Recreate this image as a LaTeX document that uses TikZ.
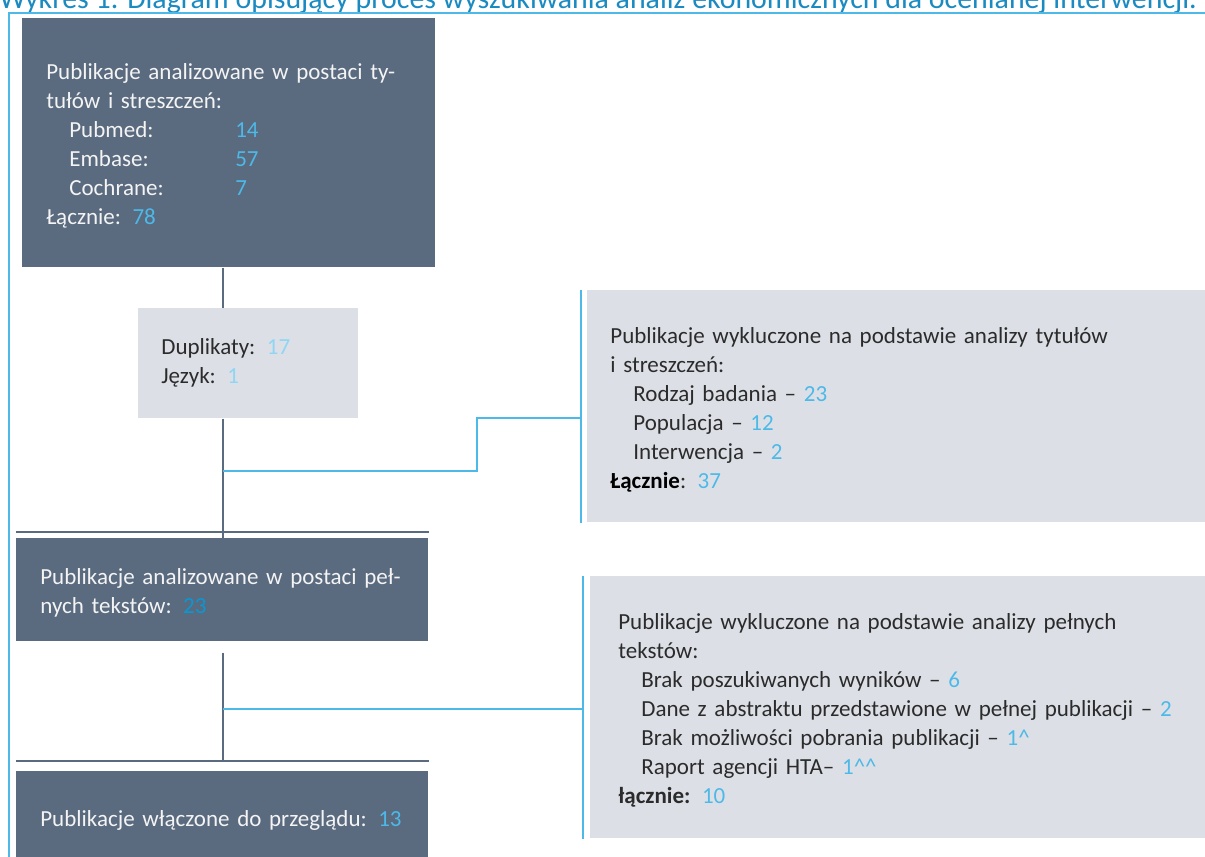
\documentclass[tikz,border=0pt]{standalone}
\usepackage{fontspec}
\setmainfont{Carlito}
\usetikzlibrary{positioning}

\definecolor{slate}{HTML}{5A6A7F}
\definecolor{pale}{HTML}{DCE0E6}
\definecolor{sky}{HTML}{4DB9E8}
\definecolor{skylt}{HTML}{8ED6F4}
\definecolor{deep}{HTML}{0898D4}
\definecolor{cap}{HTML}{1A8AC0}
\definecolor{ink}{HTML}{2B2B2B}
\definecolor{paper}{HTML}{F4F4F4}
\newcommand{\num}[1]{\textcolor{sky}{#1}}
\newcommand{\ind}{\hspace*{0.46cm}}

\begin{document}
\begin{tikzpicture}[
  x=0.02cm,y=-0.02cm,
  box/.style={rectangle,anchor=north west,inner ysep=0pt,align=left,
    font=\fontsize{13.1}{16.5}\selectfont},
  lift/.style={execute at begin node={\rule{0pt}{13pt}}},
  dark/.style={box,lift,fill=slate,text=paper},
  light/.style={box,fill=pale,text=ink},
  spine/.style={slate,line width=1.6pt},
  link/.style={sky,line width=1.2pt},
]
  \useasboundingbox (0,0) rectangle (1205,857);
  \clip (0,0) rectangle (1205,857);
  \node[anchor=base west,inner sep=0,text=cap,font=\fontsize{17}{20}\selectfont] (title) at (-1,8.5)
    {Wykres 1. Diagram opisujący proces wyszukiwania analiz ekonomicznych dla ocenianej interwencji.};
  \draw[link] (9,880) |- (1220,13);

  % left column
  \node[dark,inner xsep=0.48cm,text width=7.3cm,minimum height=4.98cm] (pub) at (22,18)
    {Publikacje analizowane w postaci ty-\\
     tułów i streszczeń:\\
     \ind\makebox[3.32cm][l]{Pubmed:}\num{14}\\
     \ind\makebox[3.32cm][l]{Embase:}\num{57}\\
     \ind\makebox[3.32cm][l]{Cochrane:}\num{7}\\
     Łącznie: \num{78}};
  \node[light,inner xsep=0.46cm,text width=3.48cm,minimum height=2.2cm] (dup) at (138,308)
    {Duplikaty: \textcolor{skylt}{17}\\
     Język: \textcolor{skylt}{1}};
  \node[dark,inner xsep=0.48cm,text width=7.28cm,minimum height=2.06cm] (full) at (16,538)
    {Publikacje analizowane w postaci peł-\\
     nych tekstów: \textcolor{deep}{23}};
  \node[dark,inner xsep=0.48cm,text width=7.28cm,minimum height=1.84cm] (incl) at (16,771)
    {Publikacje włączone do przeglądu: \num{13}};

  % right column
  \node[light,lift,inner xsep=0.46cm,text width=11.64cm,minimum height=4.64cm] (excl1) at (587,290)
    {Publikacje wykluczone na podstawie analizy tytułów\\
     i streszczeń:\\
     \ind Rodzaj badania -- \num{23}\\
     \ind Populacja -- \num{12}\\
     \ind Interwencja -- \num{2}\\
     \textcolor{black}{\textbf{Łącznie}}: \num{37}};
  \node[light,lift,inner xsep=0.56cm,text width=11.38cm,minimum height=5.24cm] (excl2) at (590,576)
    {Publikacje wykluczone na podstawie analizy pełnych\\
     tekstów:\\
     \ind Brak poszukiwanych wyników -- \num{6}\\
     \ind Dane z abstraktu przedstawione w pełnej publikacji -- \num{2}\\
     \ind Brak możliwości pobrania publikacji -- \num{1\textasciicircum}\\
     \ind Raport agencji HTA-- \num{1\textasciicircum\textasciicircum}\\
     \textbf{łącznie:} \num{10}};

  % connectors
  \coordinate (axis) at (223,0);
  \coordinate (bar1) at ([xshift=-6*0.02cm]excl1.north west);
  \coordinate (bar2) at ([xshift=-7*0.02cm]excl2.north west);
  \coordinate (tap1) at (223,471);
  \coordinate (tap2) at (223,709);
  \draw[spine] (pub.south -| axis) -- (dup.north -| axis);
  \draw[spine] (dup.south -| axis) -- (full.north -| axis);
  \draw[spine] ([yshift=-11*0.02cm]full.south -| axis) -- ([yshift=10*0.02cm]incl.north -| axis);
  \draw[spine] ([yshift=6*0.02cm]full.north west) -- ([yshift=6*0.02cm]full.north east);
  \draw[spine] ([yshift=10*0.02cm]incl.north west) -- ([yshift=10*0.02cm]incl.north east);
  \draw[link] (bar1) -- (bar1 |- excl1.south);
  \draw[link] (bar2) -- (bar2 |- excl2.south);
  \draw[link] (tap1) -| (477,418) -- (bar1 |- 0,418);
  \draw[link] (tap2) -- (bar2 |- tap2);
\end{tikzpicture}
\end{document}
